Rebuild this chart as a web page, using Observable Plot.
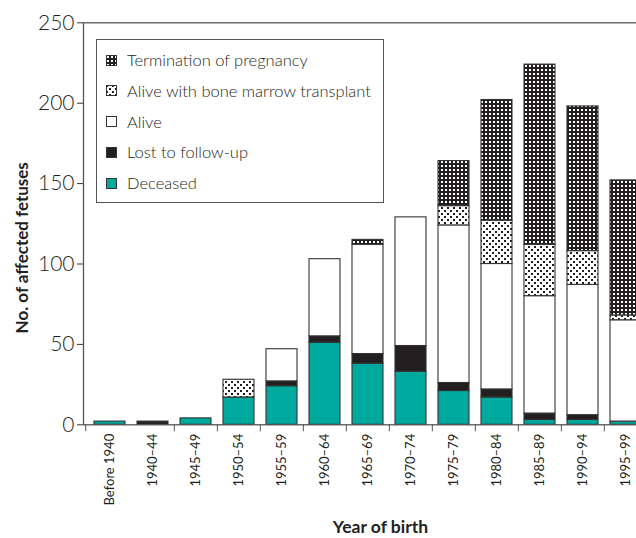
<!DOCTYPE html>
<html>
<head>
<meta charset="utf-8">
<script src="https://cdn.jsdelivr.net/npm/d3@7"></script>
<script src="https://cdn.jsdelivr.net/npm/@observablehq/plot@0.6"></script>
<style>
  html, body { margin: 0; padding: 0; background: #fff; }
  #wrap { position: relative; width: 636px; height: 538px; overflow: hidden; font-family: Lato, "Open Sans", sans-serif; color: #231f20; }
  #chart svg { max-width: none !important; }
  #legend { position: absolute; left: 96px; top: 39px; width: 286px; height: 162px; border: 1.3px solid #555; background: #fff; }
  .item { position: absolute; left: 9px; height: 20px; display: flex; align-items: center; font-size: 16.5px; font-weight: 300; white-space: nowrap; }
  .item svg { margin-right: 10px; display: block; }
</style>
</head>
<body>
<svg width="0" height="0" style="position:absolute">
  <defs>
    <pattern id="patTerm" patternUnits="userSpaceOnUse" width="4" height="4">
      <rect width="4" height="4" fill="#231f20"></rect>
      <rect x="1" y="1" width="2" height="2" fill="#fff"></rect>
    </pattern>
    <pattern id="patBmt" patternUnits="userSpaceOnUse" width="6" height="6">
      <rect width="6" height="6" fill="#fff"></rect>
      <rect x="0" y="0" width="2" height="2" fill="#231f20"></rect>
      <rect x="3" y="3" width="2" height="2" fill="#231f20"></rect>
    </pattern>
  </defs>
</svg>
<div id="wrap">
  <div id="chart"></div>
  <div id="legend"></div>
</div>
<script>
// ---- Data ----
const categories = ["Before 1940","1940–44","1945–49","1950–54","1955–59","1960–64","1965–69","1970–74","1975–79","1980–84","1985–89","1990–94","1995–99"];
const seriesNames = ["Deceased","Lost to follow-up","Alive","Alive with bone marrow transplant","Termination of pregnancy"];
const deceased    = [2, 0, 4, 17, 24, 51, 38, 33, 21, 17, 3, 3, 2];
const lostFollow  = [0, 2, 0, 0, 3, 4, 6, 16, 5, 5, 4, 3, 0];
const alive       = [0, 0, 0, 0, 20, 48, 68, 80, 98, 78, 73, 81, 63];
const aliveBmt    = [0, 0, 0, 11, 0, 0, 0, 0, 12, 27, 32, 21, 3];
const termination = [0, 0, 0, 0, 0, 0, 3, 0, 28, 75, 112, 90, 84];
const yTicks = [0, 50, 100, 150, 200, 250];
const legendOrder = ["Termination of pregnancy","Alive with bone marrow transplant","Alive","Lost to follow-up","Deceased"];

const fills = {
  "Deceased": "#00a99d",
  "Lost to follow-up": "#231f20",
  "Alive": "#ffffff",
  "Alive with bone marrow transplant": "url(#patBmt)",
  "Termination of pregnancy": "url(#patTerm)"
};
const valuesBySeries = [deceased, lostFollow, alive, aliveBmt, termination];
const data = [];
seriesNames.forEach((s, si) => categories.forEach((c, i) => {
  const v = valuesBySeries[si][i];
  if (v > 0) data.push({year: c, series: s, value: v});
}));

const W = 649, H = 538, ML = 83, MT = 22.3, MB = H - 424.3, INSET = 2.6;
const step = (W - ML - INSET) / categories.length;

const chart = Plot.plot({
  width: W, height: H,
  marginLeft: ML, marginRight: 0, marginTop: MT, marginBottom: MB,
  style: {fontFamily: "Lato, 'Open Sans', sans-serif", color: "#231f20", background: "transparent", overflow: "visible", maxWidth: "none"},
  x: {domain: categories, paddingInner: 0.29, paddingOuter: 0.145, insetLeft: INSET, label: null},
  y: {domain: [0, 250], label: null},
  color: {type: "identity"},
  marks: [
    Plot.barY(data, {x: "year", y: "value", z: "series", fill: d => fills[d.series], order: seriesNames, stroke: "#333", strokeWidth: 1.1}),
    Plot.frame({stroke: "#555", strokeWidth: 1.3}),
    Plot.axisY({ticks: yTicks, tickSize: 6, tickPadding: 3, fontSize: 21, fontWeight: 300, label: null, stroke: "#333"}),
    Plot.axisX({tickSize: 0, tickPadding: 9, tickRotate: -90, fontSize: 13, label: null}),
    Plot.axisX({ticks: categories.slice(2), tickSize: 7, tickFormat: () => "", dx: -step / 2, label: null, stroke: "#555"}),
    Plot.axisX({ticks: categories.slice(0, 1), tickSize: 7, tickFormat: () => "", dx: -step / 2 - INSET, label: null, stroke: "#555"}),
    Plot.text(["Year of birth"], {frameAnchor: "bottom", lineAnchor: "middle", dy: 103, dx: 14, fontSize: 17.5, fontWeight: "bold", fill: "#231f20"}),
    Plot.text(["No. of affected fetuses"], {frameAnchor: "left", textAnchor: "middle", lineAnchor: "middle", rotate: -90, dx: -61, dy: 24, fontSize: 17, fontWeight: "bold", fill: "#231f20"})
  ]
});
document.getElementById("chart").appendChild(chart);

// ---- Legend ----
const legend = document.getElementById("legend");
legendOrder.forEach((s, i) => {
  const item = document.createElement("div");
  item.className = "item";
  item.style.top = (10 + i * 30.8) + "px";
  item.innerHTML = `<svg width="11" height="11"><rect x="0.5" y="0.5" width="10" height="10" fill="${fills[s]}" stroke="#333" stroke-width="1"></rect></svg><span>${s}</span>`;
  legend.appendChild(item);
});
</script>
</body>
</html>
